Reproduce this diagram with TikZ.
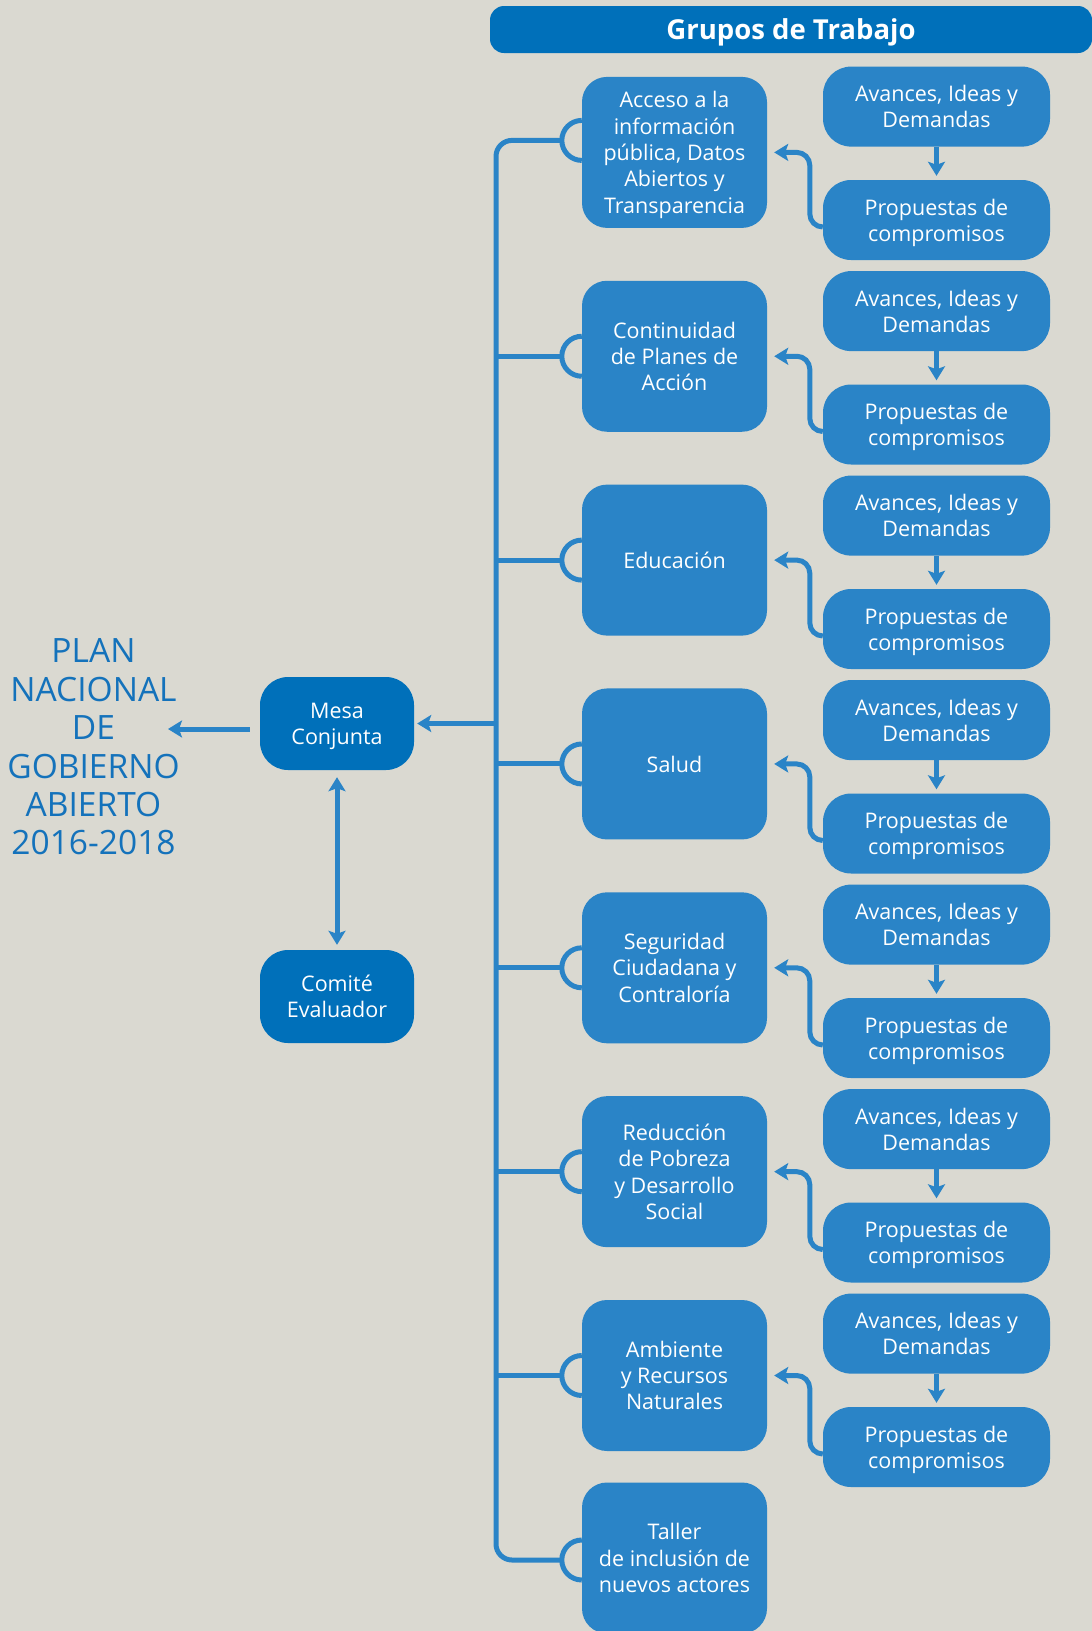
\documentclass[tikz,border=0pt]{standalone}
\usepackage{fontspec}
\setmainfont{Open Sans}
\usetikzlibrary{arrows.meta}
\definecolor{bg}{RGB}{218,217,209}
\definecolor{dblue}{RGB}{0,112,186}
\definecolor{lblue}{RGB}{42,132,199}
\definecolor{tblue}{RGB}{20,114,187}
\begin{document}
\begin{tikzpicture}[x=1pt,y=-1pt,
  lbox/.style={fill=lblue, rounded corners=25pt, minimum width=185pt, minimum height=151pt,
    align=center, text=white, font=\fontsize{21.5}{26.3}\selectfont, inner sep=0pt, text depth=0pt},
  rbox/.style={fill=lblue, rounded corners=28pt, minimum width=227pt, minimum height=80pt,
    align=center, text=white, font=\fontsize{21.5}{26.3}\selectfont, inner sep=0pt, text depth=0pt},
  dbox/.style={fill=dblue, rounded corners=28pt, minimum width=154pt, minimum height=93pt,
    align=center, text=white, font=\fontsize{21.5}{26.3}\selectfont, inner sep=0pt, text depth=0pt},
  hdrbar/.style={fill=dblue, rounded corners=14pt, minimum width=602pt, minimum height=47pt, inner sep=0pt},
  hdrtxt/.style={text=white, font=\fontsize{27.5}{32}\selectfont\bfseries, inner sep=0pt, text depth=0pt},
  plantxt/.style={text=tblue, align=center, font=\fontsize{33.5}{38.4}\selectfont, inner sep=0pt},
  conn/.style={draw=lblue, line width=5pt},
  arr/.style={conn, -{Stealth[length=14pt,width=17pt,inset=3pt]}},
  darr/.style={conn, {Stealth[length=14pt,width=17pt,inset=3pt]}-{Stealth[length=14pt,width=17pt,inset=3pt]}},
]
\fill[bg] (0,0) rectangle (1092,1631);
\useasboundingbox (0,0) rectangle (1092,1631);

% header
\node[hdrbar] (hdr) at (791,29.5) {};
\node[hdrtxt] (hdrt) at (hdr.center) {Grupos de Trabajo};

% left column, right column
\foreach \i/\t in {0/{Acceso a la\\información\\pública, Datos\\Abiertos y\\Transparencia},
                   1/{Continuidad\\de Planes de\\Acción},
                   2/{Educación},
                   3/{Salud},
                   4/{Seguridad\\Ciudadana y\\Contraloría},
                   5/{Reducción\\de Pobreza\\y Desarrollo\\Social},
                   6/{Ambiente\\y Recursos\\Naturales}}{
  \node[lbox] (a\i) at (674.5,{152.4+203.85*\i}) {\t};
  \node[rbox] (v\i) at (936.5,{106.6+204.5*\i}) {Avances, Ideas y\\Demandas};
  \node[rbox] (p\i) at (936.5,{220+204.5*\i}) {Propuestas de\\compromisos};
}
\node[lbox] (a7) at (674.5,1558) {Taller\\de inclusión de\\nuevos actores};

% Mesa, Comite, Plan
\node[dbox] (mesa) at (337,723.5) {Mesa\\Conjunta};
\node[dbox] (com) at (337,996.5) {Comité\\Evaluador};
\node[plantxt] (plan) at (93.5,747) {PLAN\\NACIONAL\\DE\\GOBIERNO\\ABIERTO\\2016-2018};

% trunk
\coordinate (tt) at (496,140.4);
\coordinate (tb) at (496,1560);
\draw[conn, rounded corners=16pt] ([xshift=-20pt,yshift=12pt]a0.west) -- (tt) -- (tb) -- ([xshift=-20pt]tb -| a7.west);
\draw[conn] ([yshift=32pt]a0.west) arc[start angle=90, end angle=270, radius=20pt];
\foreach \i in {1,...,6}{
  \draw[conn] (tt |- a\i.west) -- ([xshift=-20pt]a\i.west);
  \draw[conn] ([yshift=20pt]a\i.west) arc[start angle=90, end angle=270, radius=20pt];
}
\draw[conn] ([yshift=18pt]a7.west) arc[start angle=90, end angle=270, radius=20pt];
\foreach \i in {0,...,6}{
  \draw[arr, shorten >=4pt] (v\i.south) -- (p\i.north);
  \draw[arr, rounded corners=13pt] ([yshift=-7pt]p\i.west) -- ++(-13,0) |- ([xshift=7pt]a\i.east);
}

% mesa connections
\coordinate (pl) at (168,729);
\draw[arr, shorten >=3pt] (tt |- mesa.east) -- (mesa.east);
\draw[arr] ([xshift=-10pt,yshift=-5.5pt]mesa.west) -- (pl);
\draw[darr, shorten <=7pt, shorten >=5pt] (mesa.south) -- (com.north);
\end{tikzpicture}
\end{document}
